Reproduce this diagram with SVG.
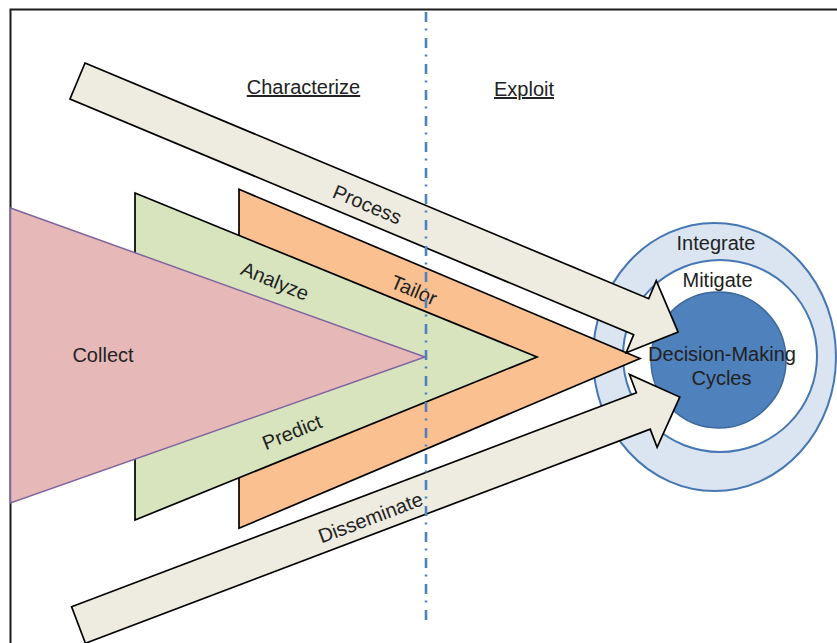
<svg xmlns="http://www.w3.org/2000/svg" width="837" height="643" viewBox="0 0 837 643">
<style>
.t{font-family:"Liberation Sans",Arial,sans-serif;font-size:20px;fill:#222;text-anchor:middle}
.u{text-decoration:underline}
.blk{stroke:#000;stroke-width:1.7;stroke-linejoin:miter}
.ring{stroke:#4677b3;stroke-width:2}
</style>
<rect width="837" height="643" fill="#fff"/>
<g id="frame"><rect x="10.5" y="9.5" width="900" height="700" fill="none" stroke="#1a1a1a" stroke-width="2"/></g>
<g id="decision-cycles">
<ellipse cx="714.5" cy="357" rx="121.5" ry="134" fill="#dbe5f1" class="ring"/>
<ellipse cx="720" cy="356" rx="97" ry="96" fill="#fff" class="ring"/>
<ellipse cx="718.5" cy="360" rx="67.5" ry="68" fill="#4f81bd" stroke="#3b679c" stroke-width="1.5"/>
</g>
<g id="tailor"><polygon class="blk" fill="#fac090" points="239,189.3 640,358.5 239,528.3"/></g>
<g id="analyze-predict"><polygon class="blk" fill="#d7e4bd" points="135,193 537,357 135,520"/></g>
<g id="collect"><polygon fill="#e6b9b8" stroke="#7f649f" stroke-width="1.5" points="10.5,208 425,357 10.5,503"/></g>
<g id="connectors">
<g id="process" transform="translate(77.5,81) rotate(22.69)">
<polygon class="blk" fill="#eeece1" points="0,-19.5 611,-19.5 611,-39 651,0 611,39 611,19.5 0,19.5"/>
</g>
<g id="disseminate" transform="translate(78.5,625) rotate(-20.76)">
<polygon class="blk" fill="#eeece1" points="0,-19.5 604,-19.5 604,-39 643,0 604,39 604,19.5 0,19.5"/>
</g>
</g>
<g id="labels">
<text class="t u" x="303.5" y="94">Characterize</text>
<text class="t u" x="524" y="96">Exploit</text>
<text class="t" x="103" y="362">Collect</text>
<text class="t" transform="translate(275,281) rotate(22.2)" y="7">Analyze</text>
<text class="t" transform="translate(414,290) rotate(22.8)" y="7">Tailor</text>
<text class="t" transform="translate(292,432) rotate(-22)" y="7">Predict</text>
<text class="t" transform="translate(77.5,81) rotate(22.69)" x="315" y="9">Process</text>
<text class="t" transform="translate(78.5,625) rotate(-20.76)" x="311" y="10">Disseminate</text>
</g>
<g id="divider"><line x1="426" y1="12" x2="426" y2="622" stroke="#4f81bd" stroke-width="2.6" stroke-dasharray="10 6.5 2 7.5"/></g>
<g id="circle-labels">
<text class="t" x="716" y="249.5">Integrate</text>
<text class="t" x="717.5" y="287">Mitigate</text>
<text class="t" x="722" y="360.5" fill="#1a1a1a">Decision-Making</text>
<text class="t" x="721.5" y="385" fill="#1a1a1a">Cycles</text>
</g>
</svg>
